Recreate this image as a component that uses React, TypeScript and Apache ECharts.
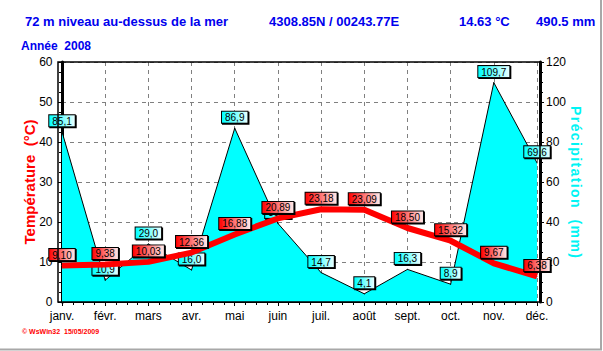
import React, { useEffect, useRef } from "react";
import * as echarts from "echarts";

const months = ["janv.", "févr.", "mars", "avr.", "mai", "juin", "juil.", "août", "sept.", "oct.", "nov.", "déc."];
const temperature = [9.10, 9.38, 10.03, 12.36, 16.88, 20.89, 23.18, 23.09, 18.50, 15.32, 9.67, 6.38];
const precipitation = [85.1, 10.9, 29.0, 16.0, 86.9, 39.3, 14.7, 4.1, 16.3, 8.9, 109.7, 69.6];
const headerTexts = ["72 m niveau au-dessus de la mer", "4308.85N / 00243.77E", "14.63 °C", "490.5 mm"];
const subTitle = "Année  2008";
const footer = "© WsWin32  15/05/2009";
const tempAxisName = "Température  (°C)";
const precAxisName = "Précipitation  (mm)";

const FONT = "'Liberation Sans', Arial, sans-serif";
const headerX = [25, 269, 459, 536];

// letter-spaced name using rich text with small spacer glyphs
const spaced = (s: string) =>
  Array.from(s)
    .map((ch) => (ch === " " ? "{w| }" : ch))
    .join("{s| }");

export default function App() {
  const ref = useRef<HTMLDivElement>(null);
  useEffect(() => {
    if (!ref.current) return;
    const chart = echarts.init(ref.current, undefined, { renderer: "svg" });
    const redGrad = new echarts.graphic.LinearGradient(0, 0, 1, 0, [
      { offset: 0, color: "#ff0000" },
      { offset: 1, color: "#ffeaea" },
    ]);
    const cyanGrad = new echarts.graphic.LinearGradient(0, 0, 1, 0, [
      { offset: 0, color: "#00ffff" },
      { offset: 1, color: "#e8ffff" },
    ]);
    const labelBase = {
      show: true,
      position: "top",
      distance: 5,
      color: "#000",
      fontSize: 10,
      fontFamily: FONT,
      borderColor: "#000",
      borderWidth: 1,
      padding: [1, 3, 0, 3],
      shadowColor: "#000",
      shadowOffsetX: 1,
      shadowOffsetY: 1,
      shadowBlur: 0,
    };
    const graphics: any[] = headerTexts.map((t, i) => ({
      type: "text",
      left: headerX[i],
      top: 15,
      style: { text: t, fill: "#0000ee", font: `bold 13px ${FONT}` },
    }));
    graphics.push(
      { type: "text", left: 21, top: 40, style: { text: subTitle, fill: "#0000ee", font: `bold 12px ${FONT}` } },
      { type: "text", left: 22, top: 328, style: { text: footer, fill: "#ff0000", font: `bold 7px ${FONT}` } },
      { type: "rect", shape: { x: 58, y: 62, width: 482, height: 240 }, style: { fill: "none", stroke: "#000", lineWidth: 1.5 }, z: 10 },
      { type: "line", shape: { x1: 601, y1: 0, x2: 601, y2: 350 }, style: { stroke: "#a8a8a8", lineWidth: 2 } },
      { type: "line", shape: { x1: 0, y1: 349.5, x2: 602, y2: 349.5 }, style: { stroke: "#a8a8a8", lineWidth: 2 } }
    );
    chart.setOption({
      animation: false,
      backgroundColor: "#fff",
      grid: { left: 62, right: 66, top: 62, bottom: 49 },
      xAxis: {
        type: "value",
        min: 0,
        max: 11,
        interval: 1,
        axisLine: { show: true, lineStyle: { color: "#000", width: 1 } },
        axisTick: { show: true, length: 4, lineStyle: { color: "#000" } },
        minorTick: { show: true, splitNumber: 4, length: 3, lineStyle: { color: "#000" } },
        axisLabel: {
          color: "#000",
          fontSize: 12,
          fontFamily: FONT,
          margin: 8,
          showMinLabel: true,
          showMaxLabel: true,
          formatter: (v: number) => months[Math.round(v)] ?? "",
        },
        splitLine: { show: true, lineStyle: { color: "#808080", type: [4, 4], width: 1 } },
      },
      yAxis: [
        {
          type: "value",
          min: 0,
          max: 60,
          interval: 10,
          position: "left",
          offset: 3.5,
          name: tempAxisName,
          nameLocation: "middle",
          nameRotate: 90,
          nameGap: 22,
          nameMoveOverlap: false,
          nameTextStyle: { color: "#ff0000", fontSize: 15, fontWeight: "bold", fontFamily: FONT },
          axisLine: { show: true, lineStyle: { color: "#000", width: 3 } },
          axisTick: { show: true, length: 4, lineStyle: { color: "#000" } },
          minorTick: { show: true, splitNumber: 4, length: 3, lineStyle: { color: "#000" } },
          axisLabel: { color: "#000", fontSize: 12, fontFamily: FONT, margin: 6 },
          splitLine: { show: true, lineStyle: { color: "#808080", type: [4, 4], width: 1 } },
        },
        {
          type: "value",
          min: 0,
          max: 120,
          interval: 20,
          position: "right",
          offset: 3,
          name: spaced(precAxisName),
          nameLocation: "middle",
          nameRotate: -90,
          nameGap: 29,
          nameMoveOverlap: false,
          nameTextStyle: {
            color: "#00f4f4",
            fontSize: 14,
            fontWeight: "bold",
            fontFamily: FONT,
            rich: {
              s: { fontSize: 5, color: "#00f4f4", fontFamily: FONT },
              w: { fontSize: 14, color: "#00f4f4", fontFamily: FONT },
            },
          },
          axisLine: { show: true, lineStyle: { color: "#000", width: 3 } },
          axisTick: { show: true, length: 4, lineStyle: { color: "#000" } },
          minorTick: { show: true, splitNumber: 4, length: 3, lineStyle: { color: "#000" } },
          axisLabel: { color: "#000", fontSize: 12, fontFamily: FONT, margin: 6 },
          splitLine: { show: false },
        },
      ],
      series: [
        {
          name: "Précipitation",
          type: "line",
          yAxisIndex: 1,
          data: precipitation.map((v, i) => [i, v]),
          symbol: "circle",
          symbolSize: 1,
          itemStyle: { color: "#000" },
          lineStyle: { color: "#000", width: 1 },
          areaStyle: { color: "#00ffff", opacity: 1 },
          label: { ...labelBase, backgroundColor: cyanGrad, formatter: (p: any) => p.value[1].toFixed(1).replace(".", ",") },
          z: 2,
        },
        {
          name: "Température",
          type: "line",
          yAxisIndex: 0,
          data: temperature.map((v, i) => [i, v]),
          symbol: "circle",
          symbolSize: 1,
          itemStyle: { color: "#ff0000" },
          lineStyle: { color: "#ff0000", width: 6, cap: "butt" },
          label: { ...labelBase, backgroundColor: redGrad, formatter: (p: any) => p.value[1].toFixed(2).replace(".", ",") },
          z: 3,
        },
      ],
      graphic: graphics,
    });
    return () => chart.dispose();
  }, []);
  return <div ref={ref} style={{ position: "absolute", left: 0, top: 0, width: 603, height: 351, background: "#fff" }} />;
}
